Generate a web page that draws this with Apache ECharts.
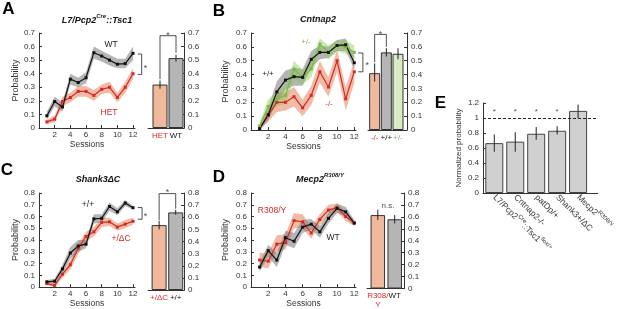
<!DOCTYPE html>
<html><head><meta charset="utf-8">
<script src="https://cdn.jsdelivr.net/npm/echarts@6/dist/echarts.min.js"></script>
<style>html,body{margin:0;padding:0;background:#fff}#c{width:617px;height:309px}</style>
</head><body><div id="c"></div>
<script>
// ---------- DATA ----------
const sessions = [1,2,3,4,5,6,7,8,9,10,11,12];
const sessionTicks = [2,4,6,8,10,12];

// Panel A  (L7/Pcp2Cre::Tsc1)
const aWT    = [0.09,0.195,0.155,0.36,0.335,0.37,0.555,0.53,0.50,0.47,0.475,0.55];
const aWTlo  = [0.06,0.16,0.12,0.32,0.30,0.33,0.51,0.49,0.46,0.44,0.44,0.50];
const aWThi  = [0.12,0.23,0.19,0.40,0.37,0.41,0.60,0.57,0.54,0.51,0.51,0.60];
const aHET   = [0.045,0.065,0.195,0.225,0.27,0.27,0.24,0.285,0.30,0.225,0.30,0.40];
const aHETlo = [0.03,0.04,0.16,0.19,0.23,0.23,0.20,0.25,0.26,0.19,0.26,0.36];
const aHEThi = [0.06,0.09,0.23,0.26,0.31,0.31,0.28,0.32,0.34,0.26,0.34,0.44];
const aBarNames = ['HET','WT'];
const aBarVals  = [0.32,0.515];
const aBarLo    = [0.29,0.49];
const aBarHi    = [0.35,0.54];

// Panel B  (Cntnap2)
const bWT    = [0.01,0.11,0.275,0.36,0.385,0.38,0.51,0.56,0.56,0.61,0.615,0.485];
const bWTlo  = [0.0,0.07,0.20,0.29,0.32,0.32,0.45,0.51,0.52,0.57,0.57,0.44];
const bWThi  = [0.03,0.16,0.35,0.43,0.45,0.44,0.57,0.61,0.60,0.65,0.66,0.53];
const bHZ    = [0.03,0.17,0.22,0.25,0.44,0.38,0.44,0.62,0.56,0.61,0.60,0.56];
const bHZlo  = [0.01,0.12,0.17,0.19,0.37,0.33,0.38,0.57,0.51,0.57,0.55,0.52];
const bHZhi  = [0.05,0.22,0.28,0.31,0.50,0.43,0.50,0.66,0.61,0.65,0.65,0.61];
const bKO    = [0.01,0.105,0.20,0.20,0.24,0.16,0.25,0.42,0.31,0.50,0.225,0.42];
const bKOlo  = [0.0,0.06,0.13,0.14,0.17,0.10,0.18,0.34,0.24,0.42,0.14,0.34];
const bKOhi  = [0.03,0.15,0.27,0.27,0.31,0.22,0.32,0.50,0.38,0.58,0.31,0.50];
const bBarNames = ['-/-','+/+','+/-'];
const bBarVals  = [0.41,0.56,0.55];
const bBarLo    = [0.35,0.53,0.51];
const bBarHi    = [0.48,0.59,0.59];

// Panel C  (Shank3ΔC)
const cWT    = [0.045,0.05,0.155,0.29,0.35,0.365,0.58,0.585,0.685,0.64,0.715,0.675];
const cWTlo  = [0.03,0.03,0.12,0.24,0.30,0.33,0.54,0.55,0.65,0.61,0.69,0.66];
const cWThi  = [0.06,0.07,0.19,0.34,0.40,0.40,0.62,0.62,0.72,0.67,0.74,0.69];
const cMut   = [0.03,0.015,0.11,0.19,0.33,0.43,0.47,0.55,0.555,0.51,0.535,0.56];
const cMutlo = [0.015,0.0,0.08,0.15,0.28,0.39,0.43,0.51,0.52,0.48,0.50,0.53];
const cMuthi = [0.045,0.03,0.14,0.23,0.37,0.47,0.51,0.59,0.59,0.54,0.57,0.59];
const cBarNames = ['+/ΔC','+/+'];
const cBarVals  = [0.535,0.64];
const cBarLo    = [0.50,0.62];
const cBarHi    = [0.57,0.66];

// Panel D  (Mecp2 R308/Y)
const dWT    = [0.17,0.31,0.23,0.42,0.39,0.51,0.535,0.47,0.585,0.67,0.64,0.545];
const dWTlo  = [0.13,0.26,0.17,0.36,0.33,0.46,0.49,0.42,0.54,0.63,0.60,0.52];
const dWThi  = [0.21,0.36,0.29,0.48,0.46,0.57,0.58,0.52,0.63,0.71,0.68,0.57];
const dMut   = [0.23,0.22,0.365,0.38,0.565,0.555,0.46,0.575,0.655,0.675,0.60,0.545];
const dMutlo = [0.17,0.16,0.30,0.32,0.50,0.50,0.41,0.53,0.61,0.64,0.56,0.52];
const dMuthi = [0.29,0.29,0.44,0.45,0.63,0.62,0.51,0.62,0.70,0.71,0.64,0.57];
const dBarNames = ['R308/Y','WT'];
const dBarVals  = [0.615,0.58];
const dBarLo    = [0.575,0.545];
const dBarHi    = [0.66,0.615];

// Panel E  (normalized probability)
const eNames = ['L7/Pcp2Cre::Tsc1flox/+','Cntnap2-/-','patDp/+','Shank3+/ΔC','Mecp2R308/Y'];
const eVals  = [0.665,0.685,0.79,0.83,1.095];
const eLo    = [0.55,0.55,0.71,0.78,1.0];
const eHi    = [0.78,0.81,0.88,0.89,1.18];
const eSig   = [true,true,true,true,false];

// ---------- STYLE ----------
const FONT = "'Liberation Sans', Arial, sans-serif";
const AX = '#333';
const RED = '#d42a24', GREEN = '#7cb848', BLACK = '#111';
const GRAY_BAND = 'rgba(120,120,120,0.55)';
const RED_BAND = 'rgba(228,112,72,0.48)';
const GREEN_BAND = 'rgba(140,200,80,0.45)';
const BAR_RED = '#f0b89c', BAR_GRAY = '#b5b5b5', BAR_GREEN = '#d9ebc6', BAR_E = '#d0d0d0';

const grids = [], xAxes = [], yAxes = [], series = [];

function fmtY(v){ if (Math.abs(v) < 1e-9) return '0'; if (Math.abs(v-1) < 1e-9) return '1'; return v.toFixed(1); }

function lineGrid(box, xmax, ymax, nameGap, xNameGap){
  const i = grids.length;
  grids.push({left:box[0], top:box[1], width:box[2], height:box[3]});
  xAxes.push({gridIndex:i, type:'value', min:0, max:xmax,
    axisLine:{show:true, lineStyle:{color:AX, width:1}},
    axisTick:{show:true, inside:true, length:3, customValues:sessionTicks, lineStyle:{color:AX}},
    axisLabel:{fontSize:8, color:AX, margin:3, customValues:sessionTicks, fontFamily:FONT},
    splitLine:{show:false},
    name:'Sessions', nameLocation:'middle', nameGap:xNameGap, nameTextStyle:{fontSize:8.5, color:AX, fontFamily:FONT}});
  yAxes.push({gridIndex:i, type:'value', min:0, max:ymax, interval:0.1,
    axisLine:{show:true, lineStyle:{color:AX, width:1}},
    axisTick:{show:true, inside:true, length:3, lineStyle:{color:AX}},
    axisLabel:{fontSize:8, color:AX, margin:4, formatter:fmtY, fontFamily:FONT},
    splitLine:{show:false},
    name:'Probability', nameLocation:'middle', nameGap:nameGap, nameTextStyle:{fontSize:9, color:AX, fontFamily:FONT}});
  return i;
}

function barGrid(box, xmin, xmax, ymax, names, colors){
  const i = grids.length;
  grids.push({left:box[0], top:box[1], width:box[2], height:box[3]});
  const vals = names.map((n,k)=>k+1);
  xAxes.push({gridIndex:i, type:'value', min:xmin, max:xmax,
    axisLine:{show:true, lineStyle:{color:AX, width:1}},
    axisTick:{show:false},
    axisLabel:{customValues:vals, margin:3, fontFamily:FONT,
      formatter:(v)=>{ const k=Math.round(v)-1; const t=names[k]; if(t==='R308/Y') return '{c'+k+'|R308/}\n{c'+k+'|Y}'; return '{c'+k+'|'+t+'}'; },
      rich: Object.fromEntries(colors.map((c,k)=>['c'+k,{color:c, fontSize:8, fontFamily:FONT, lineHeight:9}]))},
    splitLine:{show:false}});
  yAxes.push({gridIndex:i, type:'value', position:'right', min:0, max:ymax, interval:0.1,
    axisLine:{show:true, lineStyle:{color:AX, width:1}},
    axisTick:{show:true, inside:true, length:3, lineStyle:{color:AX}},
    axisLabel:{fontSize:8, color:AX, margin:4, formatter:fmtY, fontFamily:FONT},
    splitLine:{show:false}});
  return i;
}

function band(i, lo, hi, color){
  series.push({type:'custom', xAxisIndex:i, yAxisIndex:i, silent:true, z:1, clip:false,
    data:[[sessions[0], lo[0]]],
    renderItem:(p, api)=>{
      const pts = [];
      for (let k=0;k<sessions.length;k++) pts.push(api.coord([sessions[k], hi[k]]));
      for (let k=sessions.length-1;k>=0;k--) pts.push(api.coord([sessions[k], lo[k]]));
      return {type:'polygon', shape:{points:pts}, style:{fill:color}};
    }});
}
function line(i, vals, color){
  series.push({type:'line', xAxisIndex:i, yAxisIndex:i, z:3,
    data:sessions.map((s,k)=>[s, vals[k]]),
    symbol:'rect', symbolSize:3, showSymbol:true,
    itemStyle:{color:color}, lineStyle:{color:color, width:1.2}});
}
function bars(i, vals, lo, hi, colors, bw){
  series.push({type:'bar', xAxisIndex:i, yAxisIndex:i, barWidth:bw, z:2,
    data:vals.map((v,k)=>({value:[k+1, v], itemStyle:{color:colors[k], borderColor:'#333', borderWidth:1}}))});
  series.push({type:'custom', xAxisIndex:i, yAxisIndex:i, z:4, clip:false,
    dimensions:['x','lo','hi'], encode:{x:0, y:[1,2]},
    data:vals.map((v,k)=>[k+1, lo[k], hi[k]]),
    renderItem:(p, api)=>{
      const a = api.coord([api.value(0), api.value(1)]);
      const b = api.coord([api.value(0), api.value(2)]);
      return {type:'line', shape:{x1:a[0], y1:a[1], x2:b[0], y2:b[1]}, style:{stroke:'#222', lineWidth:1}};
    }});
}
// significance bracket drawn in data coordinates of its panel
function bracket(i, pts){
  series.push({type:'custom', xAxisIndex:i, yAxisIndex:i, z:4, clip:false, silent:true,
    data:[pts[0]],
    renderItem:(p, api)=>({type:'polyline', shape:{points:pts.map(q=>api.coord(q))},
      style:{stroke:'#222', lineWidth:0.8, fill:null}})});
}
function note(i, x, y, text, size, color){
  series.push({type:'scatter', xAxisIndex:i, yAxisIndex:i, z:5, clip:false, silent:true,
    data:[[x,y]], symbolSize:0,
    label:{show:true, position:'inside', formatter:text, fontSize:size||9, color:color||'#222', fontFamily:FONT}});
}

// ----- Panel A -----
const gA = lineGrid([39,33,96,95], 12.25, 0.7, 18, 11);
band(gA, aHETlo, aHEThi, RED_BAND);
band(gA, aWTlo, aWThi, GRAY_BAND);
line(gA, aHET, RED);
line(gA, aWT, BLACK);
bracket(gA, [[12.6,0.545],[13.1,0.545],[13.1,0.395],[12.6,0.395]]);
note(gA, 13.6, 0.44, '*', 9);
const gAb = barGrid([148,33,36,95], 0.25, 2.5, 0.7, aBarNames, [RED, BLACK]);
bars(gAb, aBarVals, aBarLo, aBarHi, [BAR_RED, BAR_GRAY], 15);
bracket(gAb, [[1,0.36],[1,0.68],[2,0.68],[2,0.555]]);
note(gAb, 1.5, 0.68, '*', 9);

// ----- Panel B -----
const gB = lineGrid([251,33,105,97], 12.2, 0.7, 21, 9);
band(gB, bKOlo, bKOhi, RED_BAND);
band(gB, bWTlo, bWThi, GRAY_BAND);
band(gB, bHZlo, bHZhi, GREEN_BAND);
line(gB, bKO, RED);
line(gB, bHZ, GREEN);
line(gB, bWT, BLACK);
bracket(gB, [[12.45,0.556],[13.0,0.556],[13.0,0.42],[12.45,0.42]]);
note(gB, 13.5, 0.465, '*', 9);
const gBb = barGrid([368,33,39,97], 0.43, 3.77, 0.7, bBarNames, [RED, BLACK, GREEN]);
bars(gBb, bBarVals, bBarLo, bBarHi, [BAR_RED, BAR_GRAY, BAR_GREEN], 11);
bracket(gBb, [[1,0.49],[1,0.69],[2,0.69],[2,0.60]]);
note(gBb, 1.5, 0.69, '*', 9);

// ----- Panel C -----
const gC = lineGrid([39,193,96,97], 12.25, 0.8, 18, 9);
band(gC, cMutlo, cMuthi, RED_BAND);
band(gC, cWTlo, cWThi, GRAY_BAND);
line(gC, cMut, RED);
line(gC, cWT, BLACK);
bracket(gC, [[12.6,0.676],[13.15,0.676],[13.15,0.577],[12.6,0.577]]);
note(gC, 13.6, 0.60, '*', 9);
const gCb = barGrid([148,193,36,97], 0.33, 2.5, 0.8, cBarNames, [RED, BLACK]);
bars(gCb, cBarVals, cBarLo, cBarHi, [BAR_RED, BAR_GRAY], 15);
bracket(gCb, [[1,0.575],[1,0.795],[2,0.795],[2,0.67]]);
note(gCb, 1.5, 0.80, '*', 9);

// ----- Panel D -----
const gD = lineGrid([251,193,105,97], 12.2, 0.8, 21, 9);
band(gD, dMutlo, dMuthi, RED_BAND);
band(gD, dWTlo, dWThi, GRAY_BAND);
line(gD, dMut, RED);
line(gD, dWT, BLACK);
const gDb = barGrid([367,193,37,97], 0.36, 2.55, 0.8, dBarNames, [RED, BLACK]);
bars(gDb, dBarVals, dBarLo, dBarHi, [BAR_RED, BAR_GRAY], 14.5);
note(gDb, 1.6, 0.69, 'n.s.', 8);

// ----- Panel E -----
const gE = grids.length;
grids.push({left:483, top:103, width:117, height:90});
const eRich = {
  i:{fontSize:8.5, color:AX, fontFamily:FONT, lineHeight:13},
  s:{fontSize:6, color:AX, fontFamily:FONT, verticalAlign:'top', lineHeight:7}
};
function eLabel(n){
  if (n.startsWith('L7')) return '{i|L7/Pcp2}{s|Cre}{i|::Tsc1}{s|flox/+}';
  if (n.startsWith('Mecp2')) return '{i|Mecp2}{s|R308/Y}';
  return '{i|'+n+'}';
}
xAxes.push({gridIndex:gE, type:'value', min:0.46, max:5.93,
  axisLine:{show:true, lineStyle:{color:AX, width:1}},
  axisTick:{show:false},
  axisLabel:{customValues:[1,2,3,4,5], rotate:-45, margin:3, fontFamily:FONT,
    formatter:(v)=>eLabel(eNames[Math.round(v)-1]), rich:eRich},
  splitLine:{show:false}});
yAxes.push({gridIndex:gE, type:'value', min:0, max:1.2, interval:0.2,
  axisLine:{show:true, lineStyle:{color:AX, width:1}},
  axisTick:{show:true, inside:true, length:3, lineStyle:{color:AX}},
  axisLabel:{fontSize:8, color:AX, margin:4, formatter:fmtY, fontFamily:FONT},
  splitLine:{show:false},
  name:'Normalized probability', nameLocation:'middle', nameGap:20, nameTextStyle:{fontSize:8, color:AX, fontFamily:FONT}});
series.push({type:'bar', xAxisIndex:gE, yAxisIndex:gE, barWidth:18, z:2,
  data:eVals.map((v,k)=>[k+1, v]),
  itemStyle:{color:BAR_E, borderColor:'#444', borderWidth:1},
  markLine:{silent:true, symbol:'none', label:{show:false},
    lineStyle:{color:'#222', type:[3,2], width:1}, data:[{yAxis:1}]}});
series.push({type:'custom', xAxisIndex:gE, yAxisIndex:gE, z:4, clip:false,
  dimensions:['x','lo','hi'], encode:{x:0, y:[1,2]},
  data:eVals.map((v,k)=>[k+1, eLo[k], eHi[k]]),
  renderItem:(p, api)=>{
    const a = api.coord([api.value(0), api.value(1)]);
    const b = api.coord([api.value(0), api.value(2)]);
    return {type:'line', shape:{x1:a[0], y1:a[1], x2:b[0], y2:b[1]}, style:{stroke:'#222', lineWidth:1}};
  }});
series.push({type:'scatter', xAxisIndex:gE, yAxisIndex:gE, z:5, clip:false, silent:true, symbolSize:0,
  data:eVals.map((v,k)=>[k+1, 1.08]).filter((d,k)=>eSig[k]),
  label:{show:true, position:'inside', formatter:'*', fontSize:8, color:'#222', fontFamily:FONT}});

// ---------- TEXT (panel letters, titles, in-plot labels) ----------
function T(x, y, text, opt){
  return Object.assign({type:'text', x:x, y:y, silent:true, z:10,
    style:Object.assign({text:text, fontFamily:FONT, fontSize:8.5, fill:'#222', align:'center', verticalAlign:'middle'}, opt||{})});
}
const titleRich = {
  t:{fontSize:9, fontWeight:'bold', fontStyle:'italic', fontFamily:FONT, fill:'#111', lineHeight:15},
  s:{fontSize:6, fontWeight:'bold', fontStyle:'italic', fontFamily:FONT, fill:'#111', verticalAlign:'top', lineHeight:8}
};
const graphic = [
  T(8.5, 9, 'A', {fontSize:17, fontWeight:'bold', fill:'#000'}),
  T(219, 11, 'B', {fontSize:17, fontWeight:'bold', fill:'#000'}),
  T(7, 170, 'C', {fontSize:17, fontWeight:'bold', fill:'#000'}),
  T(219, 177.5, 'D', {fontSize:17, fontWeight:'bold', fill:'#000'}),
  T(440.5, 103, 'E', {fontSize:17, fontWeight:'bold', fill:'#000'}),
  T(97, 21, '{t|L7/Pcp2}{s|Cre}{t|::Tsc1}', {rich:titleRich}),
  T(318, 20, '{t|Cntnap2}', {rich:titleRich}),
  T(98, 180, '{t|Shank3ΔC}', {rich:titleRich}),
  T(320, 180, '{t|Mecp2}{s|R308/Y}', {rich:titleRich}),
  T(111, 45, 'WT', {fill:'#222'}),
  T(109, 113, 'HET', {fill:RED}),
  T(306, 42, '+/-', {fill:GREEN, fontSize:8}),
  T(268, 74, '+/+', {fill:'#222', fontSize:8}),
  T(329, 104, '-/-', {fill:RED, fontSize:8}),
  T(88, 205, '+/+', {fill:'#222'}),
  T(121, 239, '+/ΔC', {fill:RED}),
  T(272, 211, 'R308/Y', {fill:RED}),
  T(333, 238, 'WT', {fill:'#222'})
];

const chart = echarts.init(document.getElementById('c'));
chart.setOption({
  animation:false,
  backgroundColor:'#fff',
  textStyle:{fontFamily:FONT},
  grid:grids, xAxis:xAxes, yAxis:yAxes, series:series, graphic:graphic
});
</script></body></html>
